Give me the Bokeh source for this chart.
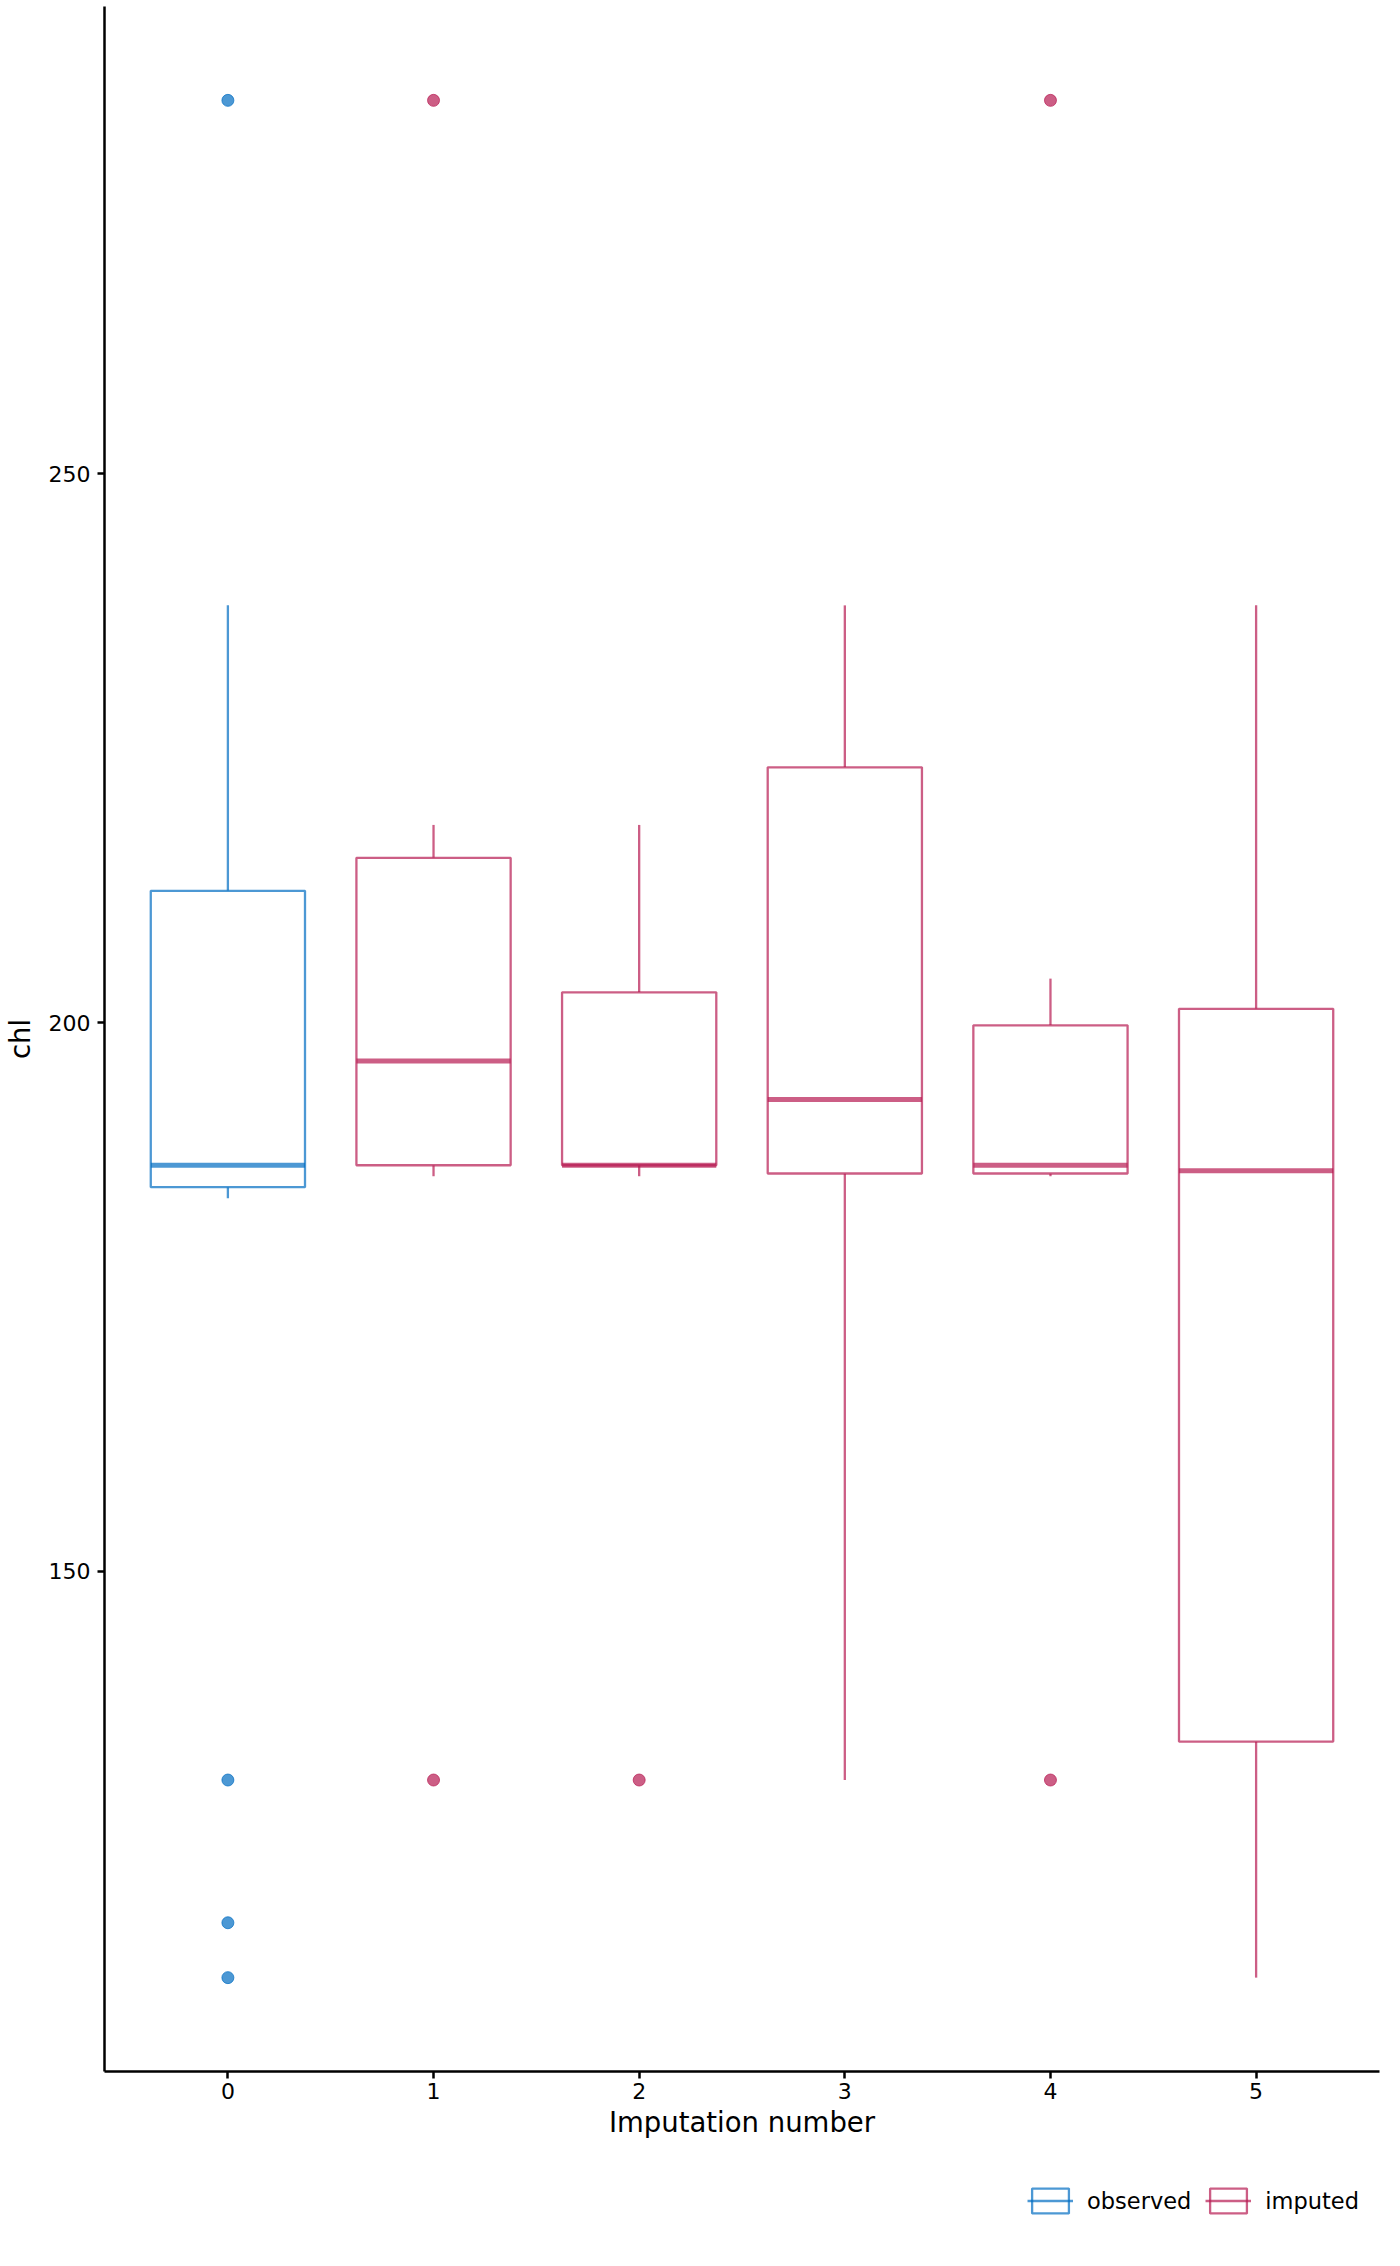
from bokeh.plotting import figure
from bokeh.models import Range1d, FixedTicker, Legend, LegendItem, ColumnDataSource
from bokeh.layouts import column
from bokeh.embed import file_html
from bokeh.resources import INLINE

# ---- data ----
groups = [0, 1, 2, 3, 4, 5]
kind = ["observed", "imputed", "imputed", "imputed", "imputed", "imputed"]
q1 = [185.0, 187.0, 187.0, 186.25, 186.25, 134.5]
med = [187.0, 196.5, 187.0, 193.0, 187.0, 186.5]
q3 = [212.0, 215.0, 202.75, 223.25, 199.75, 201.25]
whisk_lo = [184, 186, 186, 131, 186, 113]
whisk_hi = [238, 218, 218, 238, 204, 238]
out_x = [0, 0, 0, 0, 1, 1, 2, 4, 4]
out_y = [284, 131, 118, 113, 284, 131, 131, 284, 131]
y_ticks = [150, 200, 250]
x_labels = ["0", "1", "2", "3", "4", "5"]
legend_labels = ["observed", "imputed"]

COL = {"observed": "#006CC2", "imputed": "#B61A51"}
ALPHA = 0.7
BOXW = 0.75
FONT = "DejaVu Sans"

colors = [COL[k] for k in kind]
src = ColumnDataSource(dict(x=groups, q1=q1, med=med, q3=q3, lo=whisk_lo, hi=whisk_hi,
                            x0=[g - BOXW / 2 for g in groups], x1=[g + BOXW / 2 for g in groups],
                            color=colors))
out_src = ColumnDataSource(dict(x=out_x, y=out_y,
                                color=[colors[g] for g in out_x]))

p = figure(width=1384, height=2165, output_backend="svg", toolbar_location=None,
           x_range=Range1d(-0.6, 5.6), y_range=Range1d(104.45, 292.55),
           min_border_left=96, min_border_right=5, min_border_top=6, min_border_bottom=94)
p.outline_line_color = None
p.xgrid.grid_line_color = None
p.ygrid.grid_line_color = None
p.background_fill_color = "white"

# whiskers
p.segment(x0="x", y0="q3", x1="x", y1="hi", source=src, line_color="color", line_alpha=ALPHA, line_width=2.3)
p.segment(x0="x", y0="q1", x1="x", y1="lo", source=src, line_color="color", line_alpha=ALPHA, line_width=2.3)
# boxes
p.vbar(x="x", width=BOXW, bottom="q1", top="q3", source=src, fill_color="white",
       line_color="color", line_alpha=ALPHA, line_width=2.3)
# medians
p.segment(x0="x0", y0="med", x1="x1", y1="med", source=src, line_color="color",
          line_alpha=ALPHA, line_width=5)
# outliers
p.scatter(x="x", y="y", source=out_src, size=12, fill_color="color", line_color="color",
          fill_alpha=ALPHA, line_alpha=ALPHA)

# axes
for ax in (p.xaxis[0], p.yaxis[0]):
    ax.axis_line_width = 2.5
    ax.axis_line_color = "black"
    ax.major_tick_line_width = 2.5
    ax.major_tick_line_color = "black"
    ax.major_tick_out = 7
    ax.major_tick_in = 0
    ax.minor_tick_line_color = None
    ax.major_label_text_font = FONT
    ax.major_label_text_font_size = "22px"
    ax.major_label_text_color = "black"
    ax.axis_label_text_font = FONT
    ax.axis_label_text_font_size = "27.5px"
    ax.axis_label_text_font_style = "normal"
    ax.axis_label_text_color = "black"

p.xaxis.ticker = FixedTicker(ticks=groups)
p.xaxis.major_label_overrides = {g: l for g, l in zip(groups, x_labels)}
p.xaxis.axis_label = "Imputation number"
p.xaxis.major_label_standoff = 4
p.xaxis.axis_label_standoff = 4
p.yaxis.ticker = FixedTicker(ticks=y_ticks)
p.yaxis.axis_label = "chl"
p.yaxis.major_label_standoff = 7
p.yaxis.axis_label_standoff = 10

# ---- legend strip below the plot ----
lf = figure(width=1384, height=80, output_backend="svg", toolbar_location=None,
            x_range=Range1d(0, 1), y_range=Range1d(0, 1),
            min_border=0, x_axis_type=None, y_axis_type=None)
lf.outline_line_color = None
lf.xgrid.grid_line_color = None
lf.ygrid.grid_line_color = None

items = []
for k in legend_labels:
    # key glyphs: they only feed the legend icons and are hidden under a white cover
    b = lf.vbar(x=[0.5], width=0.01, bottom=[0.4], top=[0.6], fill_color="white",
                line_color=COL[k], line_alpha=ALPHA, line_width=2.3)
    m = lf.segment(x0=[0.495], y0=[0.5], x1=[0.505], y1=[0.5], line_color=COL[k],
                   line_alpha=ALPHA, line_width=2.3)
    items.append(LegendItem(label=k, renderers=[b, m]))
lf.quad(left=[-0.1], right=[1.1], bottom=[-0.5], top=[1.5], fill_color="white", line_color=None)

legend = Legend(items=items, orientation="horizontal", location="top_right",
                glyph_width=46, glyph_height=31, label_standoff=14, spacing=14,
                label_text_font=FONT, label_text_font_size="22.5px", label_text_color="black",
                border_line_color=None, background_fill_alpha=0, padding=4, margin=20)
lf.add_layout(legend, "center")

layout = column(p, lf, spacing=0)
open("out.html", "w").write(file_html(layout, INLINE))
